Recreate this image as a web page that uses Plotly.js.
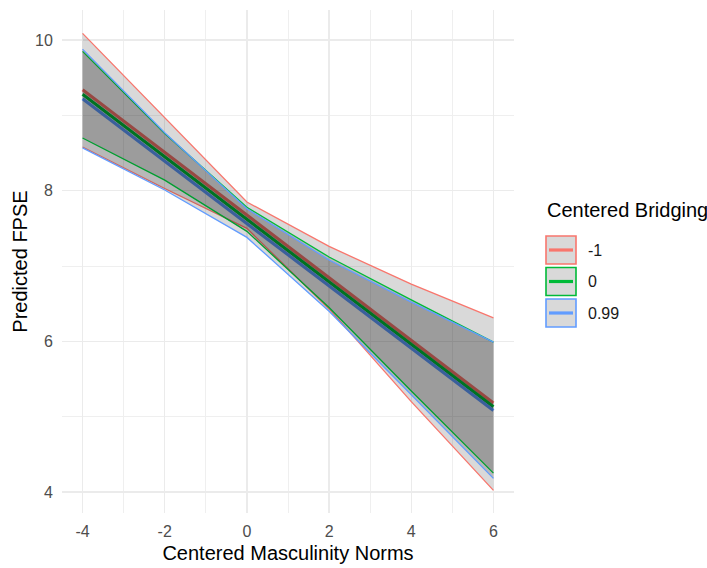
<!DOCTYPE html>
<html>
<head>
<meta charset="utf-8">
<script src="https://cdn.plot.ly/plotly-3.0.1.min.js"></script>
<style>
  html, body { margin: 0; padding: 0; background: #ffffff; }
  #chart { width: 707px; height: 568px; }
</style>
</head>
<body>
<div id="chart"></div>
<script>
// ---- data ----
const masculinity = [-4, -2, 0, 2, 4, 6];
const groups = ["-1", "0", "0.99"];

const fitNeg1  = [9.34, 8.51, 7.68, 6.85, 6.01, 5.18];
const upperNeg1 = [10.09, 8.97, 7.85, 7.26, 6.76, 6.31];
const lowerNeg1 = [8.58, 8.03, 7.50, 6.43, 5.20, 4.02];

const fitZero  = [9.28, 8.45, 7.62, 6.79, 5.96, 5.13];
const upperZero = [9.85, 8.76, 7.78, 7.12, 6.55, 5.99];
const lowerZero = [8.70, 8.14, 7.46, 6.45, 5.34, 4.25];

const fitHigh  = [9.22, 8.39, 7.57, 6.74, 5.91, 5.08];
const upperHigh = [9.88, 8.77, 7.76, 7.08, 6.52, 5.99];
const lowerHigh = [8.57, 8.01, 7.38, 6.40, 5.29, 4.18];

const xTickVals = [-4, -2, 0, 2, 4, 6];
const xTickText = ["-4", "-2", "0", "2", "4", "6"];
const yTickVals = [4, 6, 8, 10];
const yTickText = ["4", "6", "8", "10"];

// ---- styling ----
const colors = ["#F8766D", "#00BA38", "#619CFF"];
const ribbonFill = "rgba(0,0,0,0.15)";
const FONT = "Arial, 'Liberation Sans', Helvetica, sans-serif";

const fits = [fitNeg1, fitZero, fitHigh];
const uppers = [upperNeg1, upperZero, upperHigh];
const lowers = [lowerNeg1, lowerZero, lowerHigh];

const traces = [];
// fitted lines (drawn first; ribbons overlay them as in the reference)
for (let i = 0; i < 3; i++) {
  traces.push({
    type: "scatter", mode: "lines", x: masculinity, y: fits[i],
    line: { color: colors[i], width: 3.2 }, hoverinfo: "skip", showlegend: false
  });
}
// ribbons with coloured upper/lower outlines
for (let i = 0; i < 3; i++) {
  const xr = masculinity.concat(masculinity.slice().reverse());
  const yr = uppers[i].concat(lowers[i].slice().reverse());
  traces.push({
    type: "scatter", mode: "lines", x: xr, y: yr, fill: "toself",
    fillcolor: ribbonFill, line: { width: 0, color: "rgba(0,0,0,0)" },
    hoverinfo: "skip", showlegend: false
  });
  traces.push({
    type: "scatter", mode: "lines", x: masculinity, y: uppers[i],
    line: { color: colors[i], width: 1.3 }, hoverinfo: "skip", showlegend: false
  });
  traces.push({
    type: "scatter", mode: "lines", x: masculinity, y: lowers[i],
    line: { color: colors[i], width: 1.3 }, hoverinfo: "skip", showlegend: false
  });
}

// ---- manual ggplot-style legend ----
const M = { l: 62, r: 193, t: 10, b: 55 };
const W = 707, H = 568;
const pw = W - M.l - M.r, ph = H - M.t - M.b;
const px = v => (v - M.l) / pw;
const py = v => (H - M.b - v) / ph;

const shapes = [];
const annotations = [];
const keyCenters = [250, 281.5, 313];
annotations.push({
  xref: "paper", yref: "paper", x: px(545), y: py(210), xanchor: "left", yanchor: "middle",
  text: "Centered Bridging", showarrow: false, font: { family: FONT, size: 20, color: "#000000" }
});
for (let i = 0; i < 3; i++) {
  const c = keyCenters[i];
  shapes.push({
    type: "rect", xref: "paper", yref: "paper",
    x0: px(546), x1: px(576), y0: py(c - 14), y1: py(c + 14),
    fillcolor: "#D9D9D9", line: { color: colors[i], width: 1.6 }
  });
  shapes.push({
    type: "line", xref: "paper", yref: "paper",
    x0: px(549), x1: px(573), y0: py(c), y1: py(c),
    line: { color: colors[i], width: 3.2 }
  });
  annotations.push({
    xref: "paper", yref: "paper", x: px(586), y: py(c), xanchor: "left", yanchor: "middle",
    text: groups[i], showarrow: false, font: { family: FONT, size: 16, color: "#1A1A1A" }
  });
}

const layout = {
  width: W, height: H,
  margin: M,
  paper_bgcolor: "#ffffff", plot_bgcolor: "#ffffff",
  showlegend: false,
  font: { family: FONT },
  xaxis: {
    range: [-4.5, 6.5], tickmode: "array", tickvals: xTickVals, ticktext: xTickText,
    ticks: "outside", ticklen: 4, tickcolor: "rgba(0,0,0,0)",
    showgrid: true, gridcolor: "#EBEBEB", gridwidth: 1.5,
    minor: { tickmode: "array", tickvals: [-3, -1, 1, 3, 5], showgrid: true, gridcolor: "#EFEFEF", gridwidth: 1, ticks: "" },
    zeroline: false, showline: false,
    tickfont: { family: FONT, size: 16, color: "#4D4D4D" },
    title: { text: "Centered Masculinity Norms", font: { family: FONT, size: 20, color: "#000000" }, standoff: 6 },
    automargin: false
  },
  yaxis: {
    range: [3.72, 10.4], tickmode: "array", tickvals: yTickVals, ticktext: yTickText,
    ticks: "outside", ticklen: 5, tickcolor: "rgba(0,0,0,0)",
    showgrid: true, gridcolor: "#EBEBEB", gridwidth: 1.5,
    minor: { tickmode: "array", tickvals: [5, 7, 9], showgrid: true, gridcolor: "#EFEFEF", gridwidth: 1, ticks: "" },
    zeroline: false, showline: false,
    tickfont: { family: FONT, size: 16, color: "#4D4D4D" },
    title: { text: "Predicted FPSE", font: { family: FONT, size: 20, color: "#000000" }, standoff: 2 },
    automargin: false
  },
  shapes: shapes,
  annotations: annotations
};

Plotly.newPlot("chart", traces, layout, { displayModeBar: false, staticPlot: true });
</script>
</body>
</html>
